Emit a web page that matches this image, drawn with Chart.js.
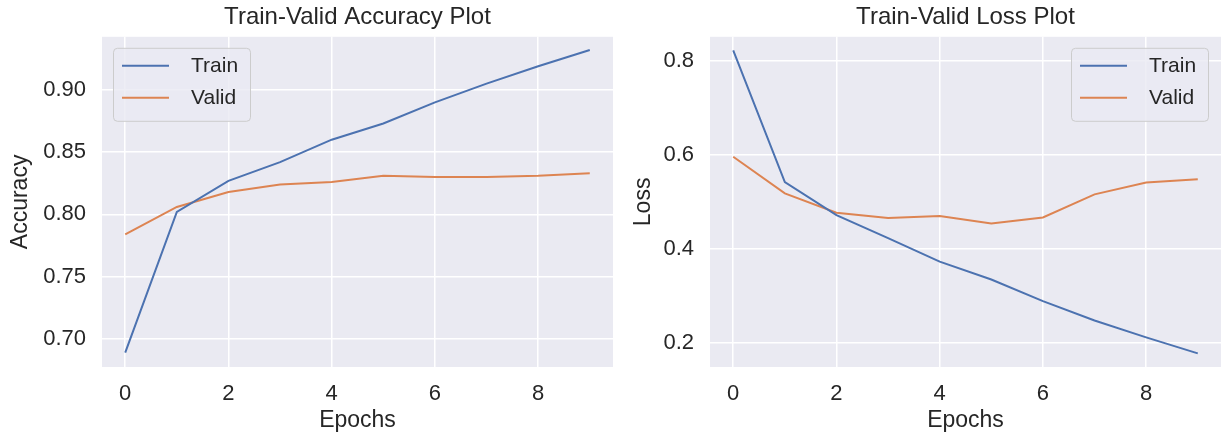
<!DOCTYPE html>
<html>
<head>
<meta charset="utf-8">
<script src="https://cdn.jsdelivr.net/npm/chart.js@4/dist/chart.umd.min.js"></script>
<style>
  html, body { margin: 0; padding: 0; background: #fff; }
  #wrap { position: relative; width: 1222px; height: 435px; }
  #accChart { position: absolute; left: 0; top: 0; }
  #lossChart { position: absolute; left: 614px; top: 0; }
</style>
</head>
<body>
<div id="wrap">
  <canvas id="accChart" width="614" height="435"></canvas>
  <canvas id="lossChart" width="608" height="435"></canvas>
</div>
<script>
// andmed (loetud pildilt)
const epochs = [0, 1, 2, 3, 4, 5, 6, 7, 8, 9];
const accTrain = [0.689, 0.802, 0.827, 0.842, 0.860, 0.873, 0.890, 0.905, 0.919, 0.932];
const accValid = [0.784, 0.806, 0.818, 0.824, 0.826, 0.831, 0.830, 0.830, 0.831, 0.833];
const lossTrain = [0.822, 0.542, 0.472, 0.423, 0.373, 0.335, 0.289, 0.248, 0.212, 0.178];
const lossValid = [0.596, 0.518, 0.477, 0.466, 0.470, 0.454, 0.467, 0.516, 0.541, 0.548];

const xTicks = [0, 2, 4, 6, 8];
const accTicks = [0.70, 0.75, 0.80, 0.85, 0.90];
const lossTicks = [0.2, 0.4, 0.6, 0.8];

const blue = '#4c72b0';
const orange = '#dd8452';
const textCol = '#262626';
const fontFam = '"Liberation Sans", Arial, sans-serif';

function pts(arr) {
    return epochs.map((e, i) => ({ x: e, y: arr[i] }));
}

// plot area background
const bgPlugin = {
    id: 'plotBg',
    beforeDraw(chart) {
        const a = chart.chartArea;
        const c = chart.ctx;
        c.save();
        c.fillStyle = '#eaeaf2';
        c.fillRect(a.left, a.top, a.right - a.left, a.bottom - a.top);
        c.restore();
    }
};

// legend inside the axes, matplotlib style
const boxLegend = {
    id: 'boxLegend',
    afterDraw(chart, args, opts) {
        const a = chart.chartArea;
        const c = chart.ctx;
        const w = 137, h = 73;
        const x = opts.side === 'right' ? a.right - 13 - w : a.left + 11;
        const y = a.top + 11;
        c.save();
        c.beginPath();
        c.roundRect(x + 0.5, y + 0.5, w, h, 4);
        c.fillStyle = 'rgba(234,234,242,0.8)';
        c.fill();
        c.strokeStyle = '#cccccc';
        c.lineWidth = 1;
        c.stroke();
        c.font = '21px ' + fontFam;
        c.textBaseline = 'middle';
        chart.data.datasets.forEach((ds, i) => {
            const ly = y + 18 + i * 32;
            c.beginPath();
            c.moveTo(x + 9, ly);
            c.lineTo(x + 56, ly);
            c.strokeStyle = ds.borderColor;
            c.lineWidth = 2;
            c.stroke();
            c.fillStyle = textCol;
            c.fillText(ds.label, x + 78, ly);
        });
        c.restore();
    }
};

function makeChart(el, title, yLabel, train, valid, yMin, yMax, yTicks, yDigits, yWidth, yTitlePad, side) {
    return new Chart(document.getElementById(el), {
        type: 'line',
        data: {
            datasets: [
                { label: 'Train', data: pts(train), borderColor: blue, borderWidth: 2, pointRadius: 0, tension: 0 },
                { label: 'Valid', data: pts(valid), borderColor: orange, borderWidth: 2, pointRadius: 0, tension: 0 }
            ]
        },
        options: {
            responsive: false,
            animation: false,
            layout: { padding: { left: 0, right: 1, top: 0, bottom: 0 } },
            plugins: {
                legend: { display: false },
                tooltip: { enabled: false },
                title: {
                    display: true,
                    text: title,
                    fullSize: false,
                    color: textCol,
                    font: { family: fontFam, size: 24, weight: 'normal' },
                    padding: { top: 3, bottom: 5 }
                },
                boxLegend: { side: side }
            },
            scales: {
                x: {
                    type: 'linear',
                    min: -0.45,
                    max: 9.45,
                    afterBuildTicks: s => { s.ticks = xTicks.map(v => ({ value: v })); },
                    afterFit: s => { s.height = 68; },
                    grid: { color: '#ffffff', lineWidth: 1.5, drawTicks: false },
                    border: { display: false },
                    ticks: {
                        color: textCol,
                        padding: 14,
                        font: { family: fontFam, size: 22 },
                        callback: v => String(v)
                    },
                    title: {
                        display: true,
                        text: 'Epochs',
                        color: textCol,
                        font: { family: fontFam, size: 23 },
                        padding: { top: 0, bottom: 1 }
                    }
                },
                y: {
                    min: yMin,
                    max: yMax,
                    afterBuildTicks: s => { s.ticks = yTicks.map(v => ({ value: v })); },
                    afterFit: s => { s.width = yWidth; },
                    grid: { color: '#ffffff', lineWidth: 1.5, drawTicks: false },
                    border: { display: false },
                    ticks: {
                        color: textCol,
                        padding: 16,
                        font: { family: fontFam, size: 22 },
                        callback: v => Number(v).toFixed(yDigits)
                    },
                    title: {
                        display: true,
                        text: yLabel,
                        color: textCol,
                        font: { family: fontFam, size: 23 },
                        padding: { top: yTitlePad, bottom: 0 }
                    }
                }
            }
        },
        plugins: [bgPlugin, boxLegend]
    });
}

makeChart('accChart', 'Train-Valid Accuracy Plot', 'Accuracy', accTrain, accValid,
    0.6775, 0.9426, accTicks, 2, 102, 7, 'left');
makeChart('lossChart', 'Train-Valid Loss Plot', 'Loss', lossTrain, lossValid,
    0.149, 0.851, lossTicks, 1, 96, 16, 'right');
</script>
</body>
</html>
